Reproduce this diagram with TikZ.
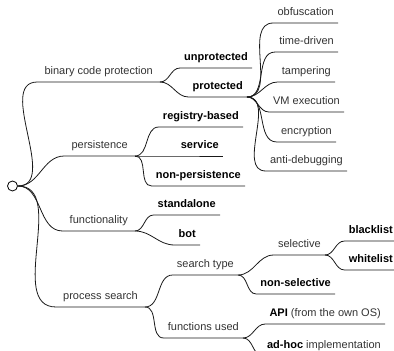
\documentclass[tikz,border=0pt]{standalone}
\usepackage{fontspec}
\setmainfont{Liberation Sans}
\usepackage{xcolor}
\definecolor{inkgray}{RGB}{51,51,51}

\begin{document}
\begin{tikzpicture}[x=1pt, y=1pt,
    branch/.style={line width=0.8pt, black!90},
    topic/.style={anchor=south east, inner xsep=7pt, inner ysep=7pt,
        text depth=0pt, font=\fontsize{11}{13}\selectfont, text=inkgray},
    leaf/.style={topic, inner xsep=4pt},
    boldleaf/.style={leaf, font=\fontsize{11}{13}\selectfont\bfseries, text=black},
]
\useasboundingbox (0,0) rectangle (394,351);

%% --- root ---
\node[draw, circle, line width=0.8pt, minimum size=10pt, inner sep=0] (root) at (12.5,165) {};

%% --- first level ---
\node[topic] (bcp)  at (160,269) {binary code protection};
\node[topic] (pers) at (135,195) {persistence};
\node[topic] (func) at (135,120) {functionality};
\node[topic] (proc) at (145,44)  {process search};

%% --- binary code protection ---
\node[boldleaf] (unprot) at (252,283) {unprotected};
\node[boldleaf] (prot)   at (247,254) {protected};

\node[leaf] (obf)  at (338,328) {obfuscation};
\node[leaf] (time) at (338,299) {time-driven};
\node[leaf] (tamp) at (335,269) {tampering};
\node[leaf] (vm)   at (344,239) {VM execution};
\node[leaf] (enc)  at (336,209) {encryption};
\node[leaf] (anti) at (347,180) {anti-debugging};

%% --- persistence ---
\node[boldleaf] (reg)     at (243,224) {registry-based};
\node[boldleaf] (serv)    at (223,195) {service};
\node[boldleaf] (nonpers) at (245,165) {non-persistence};

%% --- functionality ---
\node[boldleaf] (alone) at (220,136) {standalone};
\node[boldleaf] (bot)   at (200,106) {bot};

%% --- process search ---
\node[leaf] (stype) at (238,76) {search type};
\node[leaf] (fused) at (243,13) {functions used};

\node[leaf]     (sel)    at (325,96) {selective};
\node[boldleaf] (nonsel) at (335,57) {non-selective};
\node[boldleaf] (black)  at (397,110) {blacklist};
\node[boldleaf] (white)  at (397,81)  {whitelist};

\node[leaf] (api)   at (385,27) {\textbf{\color{black}API} (from the own OS)};
\node[leaf] (adhoc) at (385,-5) {\textbf{\color{black}ad-hoc} implementation};

%% --- branches with their underlines ---
\foreach \b in {bcp, pers, func, proc}
    \draw[branch] (root.east) to[out=0, in=180] (\b.south west) -- (\b.south east);

\foreach \a/\b in {bcp/unprot, bcp/prot,
    prot/obf, prot/time, prot/tamp, prot/vm, prot/enc, prot/anti,
    pers/reg, pers/serv, pers/nonpers,
    func/alone, func/bot,
    proc/stype, proc/fused,
    stype/sel, stype/nonsel, sel/black, sel/white,
    fused/api, fused/adhoc}
    \draw[branch] (\a.south east) to[out=0, in=180] (\b.south west) -- (\b.south east);

\end{tikzpicture}
\end{document}
